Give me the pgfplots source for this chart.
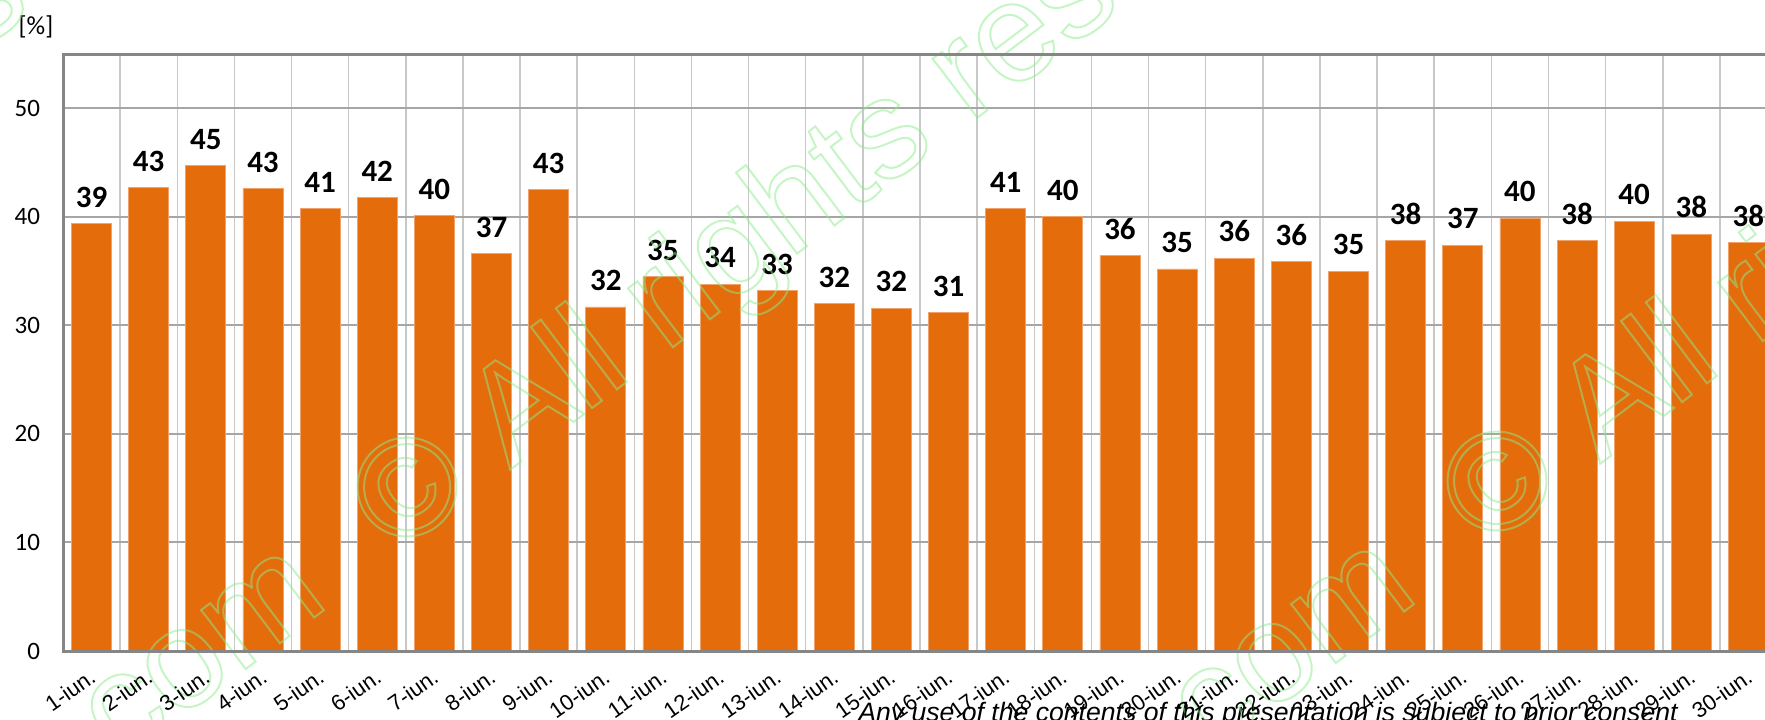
\documentclass[border=0pt]{standalone}
\usepackage{pgfplots}
\pgfplotsset{compat=1.18}
\usepackage{fontspec}
\setmainfont{Carlito}
\newfontfamily\arialfont{Liberation Sans}

\definecolor{barorange}{HTML}{E46C0A}
\definecolor{baredge}{HTML}{F2A36B}
\definecolor{hgrid}{HTML}{A6A6A6}
\definecolor{vgrid}{HTML}{C8C8C8}
\definecolor{axgray}{HTML}{868686}
\definecolor{wmgreen}{HTML}{8CEB8C}

% axis lines above the bars, grid below
\pgfplotsset{
  layers/bars below axis/.define layer set={axis background,axis grid,main,axis ticks,axis lines,axis tick labels,axis descriptions,axis foreground}{/pgfplots/layers/standard},
}

% outlined watermark text
\newcommand\wm[1]{\special{pdf:literal direct 1 Tr}#1\special{pdf:literal direct 0 Tr}}
\newcommand\wmfont{\arialfont\fontsize{70}{84}\selectfont}

\pgfplotstableread{
x  y    lab
1  39.4 39
2  42.7 43
3  44.7 45
4  42.6 43
5  40.8 41
6  41.8 42
7  40.1 40
8  36.6 37
9  42.5 43
10 31.7 32
11 34.5 35
12 33.8 34
13 33.2 33
14 32.0 32
15 31.6 32
16 31.2 31
17 40.8 41
18 40.0 40
19 36.4 36
20 35.2 35
21 36.2 36
22 35.9 36
23 35.0 35
24 37.8 38
25 37.4 37
26 39.9 40
27 37.8 38
28 39.6 40
29 38.4 38
30 37.6 38
}\junedata

\begin{document}
\begin{tikzpicture}
\begin{axis}[
  set layers=bars below axis,
  at={(31.5pt,34pt)}, anchor=south west,
  scale only axis, width=857pt, height=298.5pt,
  xmin=0.5, xmax=30.5, ymin=0, ymax=55,
  xtick={1,...,30},
  xticklabels={1-iun.,2-iun.,3-iun.,4-iun.,5-iun.,6-iun.,7-iun.,8-iun.,9-iun.,10-iun.,
    11-iun.,12-iun.,13-iun.,14-iun.,15-iun.,16-iun.,17-iun.,18-iun.,19-iun.,20-iun.,
    21-iun.,22-iun.,23-iun.,24-iun.,25-iun.,26-iun.,27-iun.,28-iun.,29-iun.,30-iun.},
  minor x tick num=1,
  xminorgrids=true, ymajorgrids=true,
  ytick={0,10,...,50},
  major tick length=0pt, minor tick length=0pt,
  tick style={draw=none},
  major grid style={hgrid, line width=1pt},
  minor grid style={vgrid, line width=0.75pt},
  axis line style={axgray, line width=1.5pt},
  /pgf/number format/assume math mode=true,
  yticklabel style={font=\fontsize{12.5}{15}\selectfont, xshift=-8pt},
  xticklabel style={font=\arialfont\fontsize{11}{13}\selectfont, xshift=-1.5pt, yshift=-7pt, rotate=35, anchor=north east, inner sep=1pt},
]
\addplot[ybar, bar width=0.7, fill=barorange, draw=baredge, line width=0.4pt,
  nodes near coords, point meta=explicit symbolic,
  nodes near coords style={font=\bfseries\fontsize{15.5}{18}\selectfont, black, yshift=4.5pt}]
  table[x=x, y=y, meta=lab] {\junedata};
\end{axis}

\node[font=\fontsize{13}{15}\selectfont] at (18pt,346pt) {[\%]};

\node[anchor=base west, inner sep=0, font=\arialfont\itshape\fontsize{13.3}{16}\selectfont]
  at (429pt,-1pt) {Any use of the contents of this presentation is subject to prior consent};

\begin{scope}[opacity=0.5, line width=1pt]
\foreach \cx/\cy in {-341.5/114.5, 203.5/116, 748.5/119} {
  \node[rotate=37, inner sep=0, text=wmgreen, font=\wmfont] (c) at (\cx pt,\cy pt) {\wm{©}};
  \node[rotate=37, inner sep=0, anchor=base east, text=wmgreen, font=\wmfont] at (c.base west) {\wm{.com\ \ }};
  \node[rotate=37, inner sep=0, anchor=base west, text=wmgreen, font=\wmfont] at (c.base east) {\wm{\ All rights reserved}};
}
\end{scope}

\pgfresetboundingbox
\useasboundingbox (0,0) rectangle (882.5pt,359.5pt);
\end{tikzpicture}
\end{document}
